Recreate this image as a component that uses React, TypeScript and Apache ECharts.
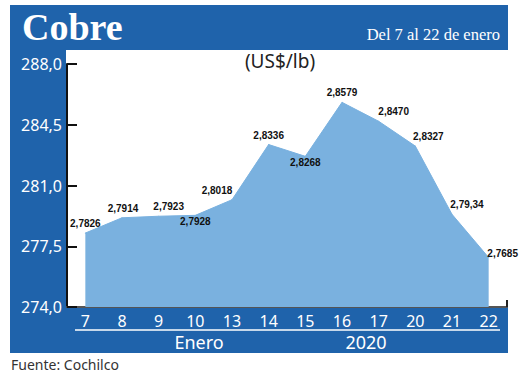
import React, { useEffect, useRef } from "react";
import * as echarts from "echarts";

const categories = ["7", "8", "9", "10", "13", "14", "15", "16", "17", "20", "21", "22"];
const values = [278.26, 279.14, 279.23, 279.28, 280.18, 283.36, 282.68, 285.79, 284.7, 283.27, 279.34, 276.85];
const labelTexts = ["2,7826", "2,7914", "2,7923", "2,7928", "2,8018", "2,8336", "2,8268", "2,8579", "2,8470", "2,8327", "2,79,34", "2,7685"];
const yMin = 274;
const yMax = 288;
const yStep = 3.5;

// label placement (style only)
const labelPlacement: { position: string; offset: number[]; distance?: number }[] = [
  { position: "top", offset: [0, 0] },
  { position: "top", offset: [1, 0] },
  { position: "top", offset: [10, 0] },
  { position: "bottom", offset: [0, 0], distance: 1 },
  { position: "top", offset: [-15, 0] },
  { position: "top", offset: [0, 0] },
  { position: "bottom", offset: [0, 0], distance: 1 },
  { position: "top", offset: [0, 0] },
  { position: "top", offset: [15, 0] },
  { position: "top", offset: [13, 0] },
  { position: "top", offset: [15, 0] },
  { position: "top", offset: [14, 5] },
];

const BLUE = "#1F63AB";
const AREA = "#7AB1DF";
const SANS = "'Noto Sans', 'Open Sans', sans-serif";
const NARROW = "'Liberation Sans', Arial, sans-serif";
const SERIF = "'Liberation Serif', 'DejaVu Serif', serif";

export default function App() {
  const ref = useRef<HTMLDivElement>(null);
  useEffect(() => {
    if (!ref.current) return;
    const chart = echarts.init(ref.current, undefined, { renderer: "svg" });
    chart.setOption({
      animation: false,
      backgroundColor: "#ffffff",
      grid: { left: 67, right: 13, top: 64, bottom: 69 },
      graphic: [
        { type: "rect", z: -10, silent: true, shape: { x: 10, y: 5, width: 498, height: 348 }, style: { fill: BLUE } },
        { type: "rect", z: -9, silent: true, shape: { x: 66, y: 50, width: 442, height: 257 }, style: { fill: "#ffffff" } },
        { type: "line", z: 5, shape: { x1: 75, y1: 330, x2: 500, y2: 330 }, style: { stroke: "#ffffff", lineWidth: 1.5 } },
        { type: "line", z: 5, shape: { x1: 507, y1: 300, x2: 507, y2: 307 }, style: { stroke: "#222222", lineWidth: 2 } },
        {
          type: "text", z: 5, x: 22, y: 27,
          style: { text: "Cobre", fill: "#ffffff", font: `bold 38px ${SERIF}`, textVerticalAlign: "middle", textAlign: "left" },
        },
        {
          type: "text", z: 5, x: 500, y: 34,
          style: { text: "Del 7 al 22 de enero", fill: "#ffffff", font: `16.5px ${SERIF}`, textVerticalAlign: "middle", textAlign: "right" },
        },
        {
          type: "text", z: 5, x: 280, y: 61,
          style: { text: "(US$/lb)", fill: "#222222", font: `19px ${SANS}`, textVerticalAlign: "middle", textAlign: "center" },
        },
        {
          type: "text", z: 5, x: 199, y: 342,
          style: { text: "Enero", fill: "#ffffff", font: `18px ${SANS}`, textVerticalAlign: "middle", textAlign: "center" },
        },
        {
          type: "text", z: 5, x: 366, y: 342,
          style: { text: "2020", fill: "#ffffff", font: `18px ${SANS}`, textVerticalAlign: "middle", textAlign: "center" },
        },
        {
          type: "text", z: 5, x: 11, y: 364,
          style: { text: "Fuente: Cochilco", fill: "#333333", font: `14px ${SANS}`, textVerticalAlign: "middle", textAlign: "left" },
        },
      ],
      xAxis: {
        type: "category",
        data: categories,
        boundaryGap: true,
        axisLine: { lineStyle: { color: "#555555", width: 2 } },
        axisTick: { show: false },
        axisLabel: { color: "#ffffff", fontFamily: SANS, fontSize: 16, margin: 6 },
        splitLine: { show: false },
      },
      yAxis: {
        type: "value",
        min: yMin,
        max: yMax,
        interval: yStep,
        axisLine: { show: true, lineStyle: { color: "#111111", width: 2 } },
        axisTick: { show: true, inside: true, length: 10, lineStyle: { color: "#111111", width: 2 } },
        axisLabel: {
          color: "#ffffff",
          fontFamily: SANS,
          fontSize: 16,
          margin: 5,
          formatter: (v: number) => v.toFixed(1).replace(".", ","),
        },
        splitLine: { show: false },
      },
      series: [
        {
          type: "line",
          data: values.map((v, i) => ({
            value: v,
            label: {
              show: true,
              position: labelPlacement[i].position,
              distance: labelPlacement[i].distance ?? 4,
            },
          })),
          symbol: "circle",
          symbolSize: 1,
          showSymbol: true,
          itemStyle: { color: AREA },
          lineStyle: { color: AREA, width: 1 },
          areaStyle: { color: AREA, opacity: 1 },
          z: 1,
          labelLayout: (params: any) => ({
            dx: labelPlacement[params.dataIndex].offset[0],
            dy: labelPlacement[params.dataIndex].offset[1],
            hideOverlap: false,
          }),
          label: {
            show: true,
            color: "#111111",
            opacity: 1,
            fontFamily: NARROW,
            fontWeight: "bold",
            fontSize: 10,
            formatter: (p: any) => labelTexts[p.dataIndex],
          },
        },
      ],
    });
    return () => chart.dispose();
  }, []);
  return <div ref={ref} style={{ width: 520, height: 376, position: "absolute", left: 0, top: 0 }} />;
}
